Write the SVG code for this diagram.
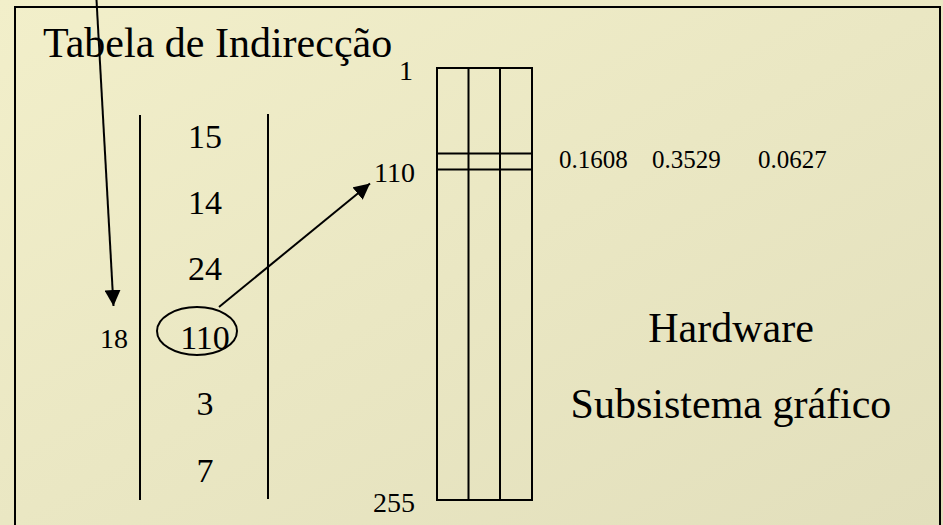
<svg xmlns="http://www.w3.org/2000/svg" width="943" height="525" viewBox="0 0 943 525">
<defs>
<linearGradient id="bg" x1="0" y1="0" x2="1" y2="1">
<stop offset="0" stop-color="#F2EFCA"/>
<stop offset="1" stop-color="#E2DFBC"/>
</linearGradient>
<marker id="ah" viewBox="0 0 10 10" refX="10" refY="5" markerWidth="16" markerHeight="16" markerUnits="userSpaceOnUse" orient="auto">
<path d="M0,0 L10,5 L0,10 z" fill="#000"/>
</marker>
<style>
.t{font-family:"Liberation Serif","Times New Roman",serif;fill:#000}
.big{font-size:42px}
.num{font-size:34px}
.sm{font-size:28px}
.val{font-size:25px}
.ln{stroke:#000;stroke-width:2;fill:none}
</style>
</defs>
<rect x="0" y="0" width="943" height="525" fill="url(#bg)"/>
<rect x="15" y="7" width="925" height="530" class="ln"/>
<g id="title"><text class="t big" x="43" y="57">Tabela de Indirecção</text></g>
<g id="table">
<line class="ln" x1="140" y1="115" x2="140" y2="500"/>
<line class="ln" x1="268" y1="114" x2="268" y2="499"/>
<text class="t num" x="205" y="148" text-anchor="middle">15</text>
<text class="t num" x="205" y="214" text-anchor="middle">14</text>
<text class="t num" x="205" y="280" text-anchor="middle">24</text>
<text class="t num" x="205" y="349" text-anchor="middle">110</text>
<text class="t num" x="205" y="415" text-anchor="middle">3</text>
<text class="t num" x="205" y="482" text-anchor="middle">7</text>
<ellipse class="ln" cx="197" cy="331" rx="40" ry="24"/>
</g>
<g id="index"><text class="t sm" x="114" y="348" text-anchor="middle">18</text></g>
<g id="palette">
<rect class="ln" x="437" y="68" width="95" height="432"/>
<line class="ln" x1="468.5" y1="68" x2="468.5" y2="500"/>
<line class="ln" x1="500" y1="68" x2="500" y2="500"/>
<line class="ln" x1="437" y1="153.5" x2="532" y2="153.5"/>
<line class="ln" x1="437" y1="169.5" x2="532" y2="169.5"/>
<text class="t sm" x="413" y="80" text-anchor="end">1</text>
<text class="t sm" x="415" y="182" text-anchor="end">110</text>
<text class="t sm" x="415" y="512" text-anchor="end">255</text>
<text class="t val" x="559" y="168">0.1608</text>
<text class="t val" x="652" y="168">0.3529</text>
<text class="t val" x="758" y="168">0.0627</text>
</g>
<g id="hardware">
<text class="t big" x="731" y="342" text-anchor="middle">Hardware</text>
<text class="t big" x="731" y="418" text-anchor="middle">Subsistema gráfico</text>
</g>
<g id="connectors">
<line class="ln" x1="96.5" y1="0" x2="113.5" y2="306" marker-end="url(#ah)"/>
<line class="ln" x1="219" y1="307" x2="370" y2="183.5" marker-end="url(#ah)"/>
</g>
</svg>
